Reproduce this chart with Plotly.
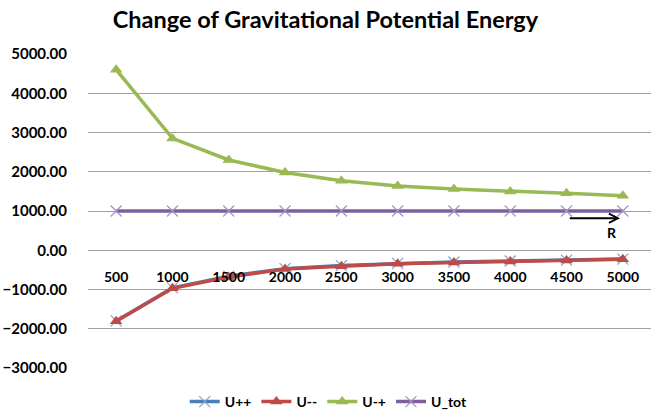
import plotly.graph_objects as go

categories = ["500", "1000", "1500", "2000", "2500", "3000", "3500", "4000", "4500", "5000"]
u_pp = [-1800, -960, -660, -470, -390, -335, -300, -275, -250, -225]
u_mm = [-1810, -970, -680, -480, -410, -345, -310, -285, -260, -230]
u_mp = [4600, 2850, 2300, 1980, 1770, 1635, 1560, 1495, 1450, 1390]
u_tot = [1000, 1000, 1000, 1000, 1000, 1000, 1000, 1000, 1000, 1000]
y_ticks = [-3000, -2000, -1000, 0, 1000, 2000, 3000, 4000, 5000]

FONT = "Lato"

fig = go.Figure()
fig.add_trace(go.Scatter(
    x=categories, y=u_pp, name="U++", mode="lines+markers",
    line=dict(color="#4A7EBB", width=3.5),
    marker=dict(symbol="x-thin", size=11, line=dict(color="#7FA3D2", width=1.2)),
))
fig.add_trace(go.Scatter(
    x=categories, y=u_mm, name="U--", mode="lines+markers",
    line=dict(color="#BE4B48", width=3.5),
    marker=dict(symbol="triangle-up", size=11, color="#BE4B48"),
))
fig.add_trace(go.Scatter(
    x=categories, y=u_mp, name="U-+", mode="lines+markers",
    line=dict(color="#98B954", width=3.5),
    marker=dict(symbol="triangle-up", size=11, color="#98B954"),
))
fig.add_trace(go.Scatter(
    x=categories, y=u_tot, name="U_tot", mode="lines+markers",
    line=dict(color="#7D5FA0", width=3.5),
    marker=dict(symbol="x-thin", size=11, line=dict(color="#A592C2", width=1.2)),
))

# Arrow with label "R"
fig.add_annotation(
    x=8.95, y=815, ax=8.03, ay=815, xref="x", yref="y", axref="x", ayref="y",
    showarrow=True, arrowhead=5, arrowsize=0.9, arrowwidth=2, arrowcolor="black", text="",
)
fig.add_annotation(
    x=8.8, y=440, xref="x", yref="y", text="<b>R</b>", showarrow=False,
    font=dict(family=FONT, size=14, color="black"),
)

fig.update_layout(
    width=651, height=415,
    margin=dict(l=88, r=0, t=54, b=47, autoexpand=False),
    paper_bgcolor="white", plot_bgcolor="white",
    title=dict(
        text="<b>Change of Gravitational Potential Energy</b>",
        font=dict(family=FONT, size=23.5, color="black"),
        x=0.5, xref="container", xanchor="center",
        y=1 - 20 / 415, yref="container", yanchor="middle",
    ),
    legend=dict(
        orientation="h", xref="container", yref="container",
        x=0.505, xanchor="center", y=1 - 386 / 415, yanchor="top",
        font=dict(family=FONT, size=14, color="black", weight="bold"),
        bgcolor="rgba(0,0,0,0)",
    ),
    xaxis=dict(
        type="category", range=[-0.5, 9.5], anchor="free", position=0.375,
        showline=False, showgrid=False, zeroline=False, ticks="",
        ticklabelstandoff=17,
        tickfont=dict(family=FONT, size=14, color="black", weight="bold"),
    ),
    yaxis=dict(
        range=[-3000, 5000], tickvals=y_ticks, tickformat=".2f",
        showgrid=True, gridcolor="#A0A0A0", gridwidth=1,
        zeroline=False, showline=False, ticks="",
        ticklabelstandoff=20,
        tickfont=dict(family=FONT, size=15, color="black", weight="bold"),
    ),
)

fig.write_html(
    "out.html",
    config={"displayModeBar": False},
    post_script="document.body.style.margin='0px';",
)
